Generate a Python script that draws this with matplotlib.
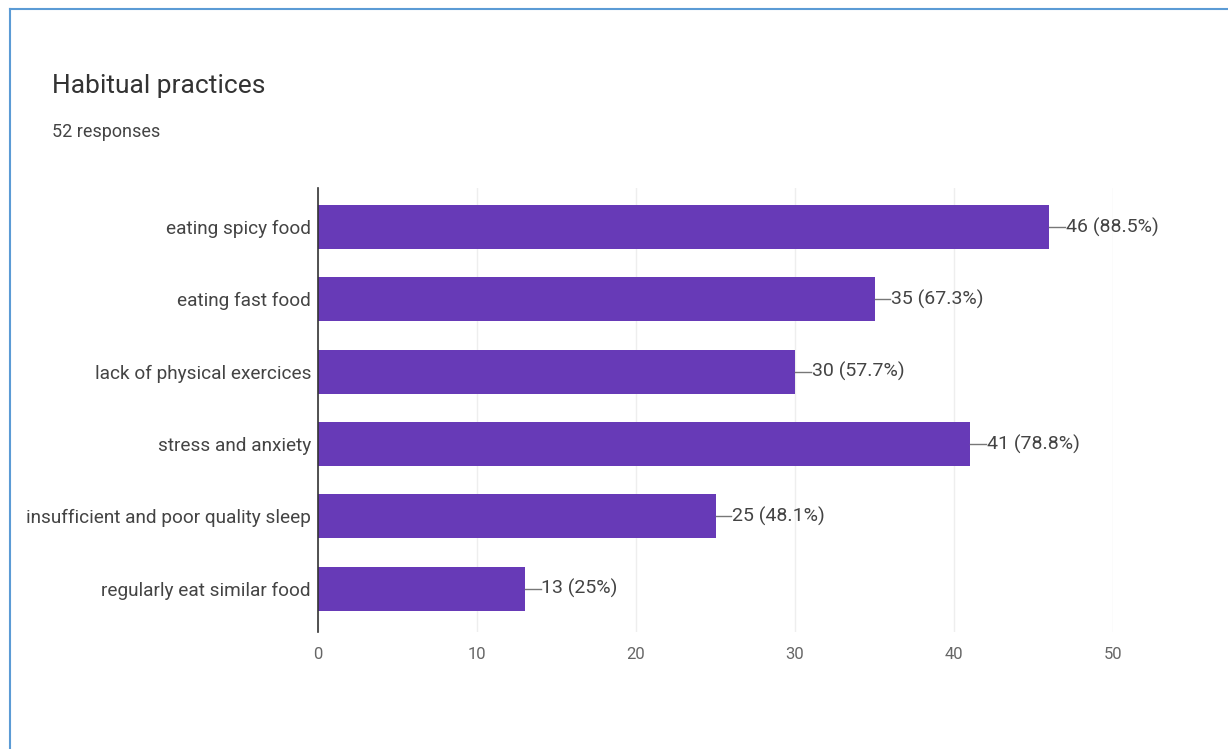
import matplotlib
matplotlib.use("Agg")
import matplotlib.pyplot as plt
from matplotlib.lines import Line2D

categories = ["eating spicy food", "eating fast food", "lack of physical exercices",
              "stress and anxiety", "insufficient and poor quality sleep",
              "regularly eat similar food"]
counts = [46, 35, 30, 41, 25, 13]
percent_labels = ["88.5%", "67.3%", "57.7%", "78.8%", "48.1%", "25%"]
xticks = [0, 10, 20, 30, 40, 50]

plt.rcParams['font.family'] = ['Roboto', 'DejaVu Sans']

fig = plt.figure(figsize=(12.28, 7.49), dpi=100)
fig.patch.set_facecolor('white')
ax = fig.add_axes([0.259, 0.156, 0.6474, 0.593])

ypos = list(range(len(categories)))
ax.barh(ypos, counts, height=0.61, color='#673ab7', zorder=3)
ax.set_ylim(5.6, -0.54)
ax.set_xlim(0, 50)
ax.set_yticks(ypos)
ax.set_yticklabels(categories, fontsize=13.7, color='#444444')
ax.set_xticks(xticks)
ax.set_xticklabels([str(t) for t in xticks], fontsize=12, color='#666666')
ax.tick_params(axis='both', length=0)
ax.tick_params(axis='y', pad=5)
ax.tick_params(axis='x', pad=11)
ax.grid(axis='x', color='#eeeeee', lw=1, zorder=0)
for s in ['top', 'right', 'bottom']:
    ax.spines[s].set_visible(False)
ax.spines['left'].set_color('#333333')
ax.spines['left'].set_linewidth(1.2)
ax.spines['left'].set_zorder(4)

for i, (v, p) in enumerate(zip(counts, percent_labels)):
    ax.plot([v, v + 1.0], [i, i], color='#777777', lw=1, zorder=3, clip_on=False)
    ax.text(v + 1.05, i, f"{v} ({p})", va='center', ha='left', fontsize=14,
            color='#444444', clip_on=False)

fig.text(52 / 1228, 1 - 86 / 749, "Habitual practices", fontsize=19, color='#333333',
         va='center', ha='left')
fig.text(52 / 1228, 1 - 132 / 749, "52 responses", fontsize=13, color='#444444',
         va='center', ha='left')

# frame lines (top and left, as in reference)
fig.add_artist(Line2D([10 / 1228, 1.0], [1 - 8.5 / 749, 1 - 8.5 / 749],
                      transform=fig.transFigure, color='#5b9bd5', lw=1.5))
fig.add_artist(Line2D([10 / 1228, 10 / 1228], [0.0, 1 - 8.5 / 749],
                      transform=fig.transFigure, color='#5b9bd5', lw=1.5))

fig.savefig("out.png", dpi=100, facecolor='white')
